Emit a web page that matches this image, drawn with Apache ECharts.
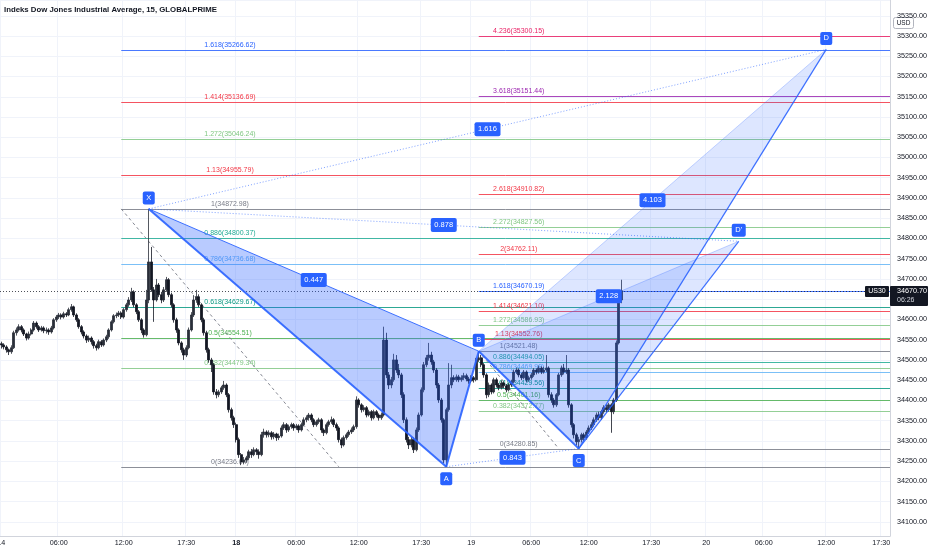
<!DOCTYPE html>
<html><head><meta charset="utf-8">
<script src="https://cdn.jsdelivr.net/npm/echarts@6/dist/echarts.min.js"></script>
<style>html,body{margin:0;padding:0;background:#fff}#c{width:932px;height:550px}</style>
</head><body><div id="c"></div>
<script>
// ---------------- data ----------------
const chartTitle = 'Indeks Dow Jones Industrial Average, 15, GLOBALPRIME';
const slotCount = 356;
const xTickIdx = [0, 23, 49, 74, 94, 118, 143, 168, 188, 212, 235, 260, 282, 305, 330, 352];
const xTickLabels = ['14', '06:00', '12:00', '17:30', '18', '06:00', '12:00', '17:30', '19', '06:00', '12:00', '17:30', '20', '06:00', '12:00', '17:30'];
const xBoldLabels = ['18'];
const yMin = 34065, yMax = 35389;

// [open, close, low, high]
const candles = [
[34540,34537,34528,34545],[34537,34532,34526,34541],[34532,34525,34518,34536],[34525,34520,34512,34528],[34520,34530,34515,34536],
[34530,34567,34527,34572],[34567,34574,34560,34580],[34574,34582,34570,34588],[34582,34574,34568,34586],[34574,34564,34559,34578],
[34564,34554,34548,34567],[34554,34564,34550,34570],[34564,34574,34560,34578],[34574,34591,34570,34596],[34591,34582,34577,34595],
[34582,34574,34569,34586],[34574,34579,34570,34584],[34579,34572,34566,34583],[34572,34574,34565,34580],[34574,34569,34562,34578],
[34569,34579,34565,34584],[34579,34599,34575,34603],[34599,34606,34594,34611],[34606,34611,34601,34616],[34611,34606,34600,34615],
[34606,34614,34602,34619],[34614,34611,34606,34618],[34611,34624,34608,34629],[34624,34631,34619,34638],[34631,34611,34606,34634],
[34611,34599,34594,34615],[34599,34582,34577,34603],[34582,34569,34563,34586],[34569,34559,34553,34573],[34559,34549,34542,34563],
[34549,34554,34544,34560],[34554,34545,34538,34558],[34545,34535,34528,34549],[34535,34530,34523,34540],[34530,34545,34526,34550],
[34545,34537,34532,34549],[34537,34549,34533,34553],[34549,34557,34544,34562],[34557,34574,34552,34578],[34574,34594,34570,34598],
[34594,34609,34590,34613],[34609,34611,34603,34617],[34611,34616,34606,34621],[34616,34606,34601,34620],[34606,34624,34602,34628],
[34624,34636,34619,34641],[34636,34648,34631,34655],[34648,34668,34643,34678],[34668,34636,34630,34672],[34636,34619,34613,34640],
[34619,34599,34594,34623],[34599,34574,34566,34603],[34574,34562,34555,34578],[34562,34648,34558,34673],[34648,34742,34640,34872.98],
[34742,34673,34668,34779],[34673,34648,34594,34680],[34648,34685,34644,34700],[34685,34661,34655,34690],[34661,34648,34640,34668],
[34648,34673,34643,34680],[34673,34698,34668,34705],[34698,34661,34655,34702],[34661,34636,34630,34666],[34636,34599,34592,34640],
[34599,34574,34567,34604],[34574,34542,34536,34578],[34542,34525,34518,34546],[34525,34512,34500,34530],[34512,34530,34507,34536],
[34530,34574,34526,34580],[34574,34611,34570,34618],[34611,34648,34606,34660],[34648,34656,34641,34673],[34656,34636,34630,34662],
[34636,34599,34593,34640],[34599,34567,34560,34604],[34567,34525,34518,34572],[34525,34500,34493,34530],[34500,34488,34470,34505],
[34488,34421,34414,34492],[34421,34414,34405,34428],[34414,34421,34408,34426],[34421,34431,34416,34436],[34431,34438,34426,34448],
[34438,34414,34408,34442],[34414,34377,34370,34418],[34377,34357,34350,34382],[34357,34340,34332,34362],[34340,34303,34296,34345],
[34303,34266,34258,34308],[34266,34248,34240,34270],[34248,34253,34242,34260],[34253,34258,34246,34263],[34258,34273,34252,34278],
[34273,34266,34258,34280],[34266,34278,34262,34284],[34278,34273,34265,34282],[34273,34266,34256,34279],[34266,34315,34262,34322],
[34315,34322,34308,34330],[34322,34315,34308,34326],[34315,34320,34309,34326],[34320,34310,34303,34324],[34310,34317,34304,34322],
[34317,34308,34300,34320],[34308,34312,34302,34318],[34312,34332,34308,34338],[34332,34340,34327,34346],[34340,34327,34320,34344],
[34327,34335,34322,34340],[34335,34340,34330,34345],[34340,34332,34325,34344],[34332,34337,34327,34342],[34337,34327,34320,34341],
[34327,34340,34323,34345],[34340,34352,34336,34358],[34352,34357,34346,34363],[34357,34364,34350,34369],[34364,34352,34346,34368],
[34352,34340,34334,34356],[34340,34347,34335,34352],[34347,34352,34342,34357],[34352,34327,34320,34356],[34327,34320,34312,34331],
[34320,34340,34316,34345],[34340,34347,34335,34352],[34347,34352,34342,34360],[34352,34340,34334,34356],[34340,34332,34325,34345],
[34332,34303,34296,34336],[34303,34290,34282,34308],[34290,34308,34286,34313],[34308,34315,34303,34320],[34315,34322,34310,34327],
[34322,34327,34317,34333],[34327,34335,34322,34340],[34335,34401,34330,34410],[34401,34389,34382,34405],[34389,34377,34370,34393],
[34377,34382,34372,34388],[34382,34364,34358,34386],[34364,34372,34360,34377],[34372,34357,34350,34376],[34357,34372,34353,34377],
[34372,34364,34358,34376],[34364,34357,34350,34368],[34357,34364,34352,34370],[34364,34549,34360,34582],[34549,34463,34455,34567],
[34463,34438,34428,34470],[34438,34451,34430,34458],[34451,34500,34446,34515],[34500,34475,34468,34512],[34475,34463,34455,34490],
[34463,34414,34406,34468],[34414,34352,34344,34420],[34352,34303,34296,34358],[34303,34290,34280,34310],[34290,34303,34284,34310],
[34303,34278,34270,34308],[34278,34327,34274,34333],[34327,34364,34322,34370],[34364,34426,34360,34432],[34426,34488,34420,34495],
[34488,34505,34482,34512],[34505,34512,34498,34542],[34512,34495,34488,34520],[34495,34475,34468,34500],[34475,34438,34430,34480],
[34438,34401,34394,34443],[34401,34352,34345,34406],[34352,34253,34245,34356],[34253,34377,34236.04,34382],[34377,34438,34372,34492],
[34438,34456,34430,34488],[34456,34451,34445,34462],[34451,34458,34446,34464],[34458,34451,34445,34463],[34451,34456,34446,34462],
[34456,34461,34450,34468],[34461,34453,34447,34466],[34453,34448,34441,34458],[34448,34456,34443,34462],[34456,34451,34444,34460],
[34451,34500,34447,34505],[34500,34505,34495,34521.48],[34505,34488,34482,34512],[34488,34463,34456,34492],[34463,34414,34405,34467],
[34414,34438,34408,34444],[34438,34421,34415,34442],[34421,34451,34417,34456],[34451,34438,34432,34456],[34438,34431,34425,34443],
[34431,34443,34427,34449],[34443,34436,34430,34447],[34436,34426,34420,34440],[34426,34438,34422,34443],[34438,34446,34433,34451],
[34446,34470,34442,34476],[34470,34475,34465,34481],[34475,34463,34457,34479],[34463,34456,34450,34468],[34456,34470,34452,34475],
[34470,34451,34445,34474],[34451,34456,34446,34461],[34456,34463,34451,34468],[34463,34475,34458,34480],[34475,34470,34464,34479],
[34470,34480,34466,34486],[34480,34470,34465,34484],[34470,34475,34466,34483],[34475,34480,34470,34512],[34480,34414,34407,34484],
[34414,34401,34394,34420],[34401,34389,34382,34406],[34389,34414,34384,34418],[34414,34463,34410,34468],[34463,34480,34458,34486],
[34480,34470,34464,34490],[34470,34475,34465,34512],[34475,34389,34382,34480],[34389,34340,34333,34393],[34340,34315,34306,34344],
[34315,34298,34289,34320],[34298,34303,34280.85,34310],[34303,34315,34296,34320],[34315,34308,34300,34320],[34308,34322,34303,34327],
[34322,34332,34317,34338],[34332,34340,34327,34346],[34340,34352,34335,34358],[34352,34364,34347,34370],[34364,34357,34351,34372],
[34357,34372,34352,34377],[34372,34382,34367,34388],[34382,34377,34370,34390],[34377,34389,34372,34394],[34389,34372,34320,34393],
[34372,34401,34366,34406],[34401,34542,34396,34548],[34542,34648,34538,34655],[34648,34670.70,34640,34698]
];

// harmonic pattern points (bar index, price)
const pointNames = ['X', 'A', 'B', 'C', 'D', "D'"];
const pointIdx = [59, 178, 191, 231, 330, 295];
const pointPrice = [34872.98, 34236.04, 34521.48, 34280.85, 35267.00, 34793.00];

// ratio labels on pattern segments
const ratioText = ['0.447', '0.843', '4.103', '1.616', '2.128', '0.878'];
const ratioFrom = ['X', 'A', 'B', 'X', 'B', 'X'];
const ratioTo = ['B', 'C', 'D', 'D', "D'", "D'"];

// Fibonacci tools
const fibLeftRatios = ['1.618', '1.414', '1.272', '1.13', '1', '0.886', '0.786', '0.618', '0.5', '0.382', '0'];
const fibLeftPrices = [35266.62, 35136.69, 35046.24, 34955.79, 34872.98, 34800.37, 34736.68, 34629.67, 34554.51, 34479.34, 34236.04];
const fibLeftAnchor = [48, 135];
const fibRightRatios = ['4.236', '3.618', '2.618', '2.272', '2', '1.618', '1.414', '1.272', '1.13', '1', '0.886', '0.786', '0.618', '0.5', '0.382', '0'];
const fibRightPrices = [35300.15, 35151.44, 34910.82, 34827.56, 34762.11, 34670.19, 34621.10, 34586.93, 34552.76, 34521.48, 34494.05, 34469.98, 34429.56, 34401.16, 34372.77, 34280.85];
const fibRightAnchor = [191, 223];

const symbolName = 'US30';
const lastPrice = 34670.70;
const lastCountdown = '06:26';
const currencyLabel = 'USD';

// ---------------- styles ----------------
const FONT = '"Liberation Sans", Arial, sans-serif';
const BLUE = '#2962FF';
const fibColor = {
  '0': '#787B86', '1': '#787B86', '0.382': '#81C784', '0.5': '#4CAF50', '0.618': '#089981',
  '0.786': '#64B5F6', '0.886': '#22AB94', '1.13': '#F23645', '1.272': '#81C784', '1.414': '#F23645',
  '1.618': '#2962FF', '2': '#F23645', '2.272': '#81C784', '2.618': '#F23645', '3.618': '#9C27B0', '4.236': '#E91E63'
};
const pointAbove = [true, false, true, false, true, true];
const fillTriangles = [['X', 'A', 'B'], ['B', 'C', 'D'], ['B', 'C', "D'"]];
const fillAlpha = [0.33, 0.16, 0.16];
const legSegments = [['X', 'A', 2], ['A', 'B', 2], ['B', 'C', 2], ['C', 'D', 1.2], ['C', "D'", 1.2], ['X', 'B', 1], ['B', 'D', 0.6], ['B', "D'", 0.6]];
const dottedSegments = [['X', 'D'], ['X', "D'"], ['A', 'C']];

// ---------------- build ----------------
const P = n => { const k = pointNames.indexOf(n); return [pointIdx[k], pointPrice[k]]; };
const categories = Array.from({ length: slotCount }, (_, i) => String(i));
const tickSet = new Set(xTickIdx);

const fibLevels = [];
fibLeftRatios.forEach((r, i) => fibLevels.push({ ratio: r, price: fibLeftPrices[i], start: fibLeftAnchor[0], end: fibLeftAnchor[1] }));
fibRightRatios.forEach((r, i) => fibLevels.push({ ratio: r, price: fibRightPrices[i], start: fibRightAnchor[0], end: fibRightAnchor[1] }));

const chart = echarts.init(document.getElementById('c'), null, { renderer: 'canvas' });

const option = {
  animation: false,
  backgroundColor: '#ffffff',
  title: { text: chartTitle, left: 4, top: 6, padding: 0, textStyle: { fontSize: 7.8, fontWeight: 'bold', color: '#131722', fontFamily: FONT } },
  grid: { left: 0, right: 42, top: 0, bottom: 14, containLabel: false, outerBoundsMode: 'none' },
  xAxis: {
    type: 'category', data: categories, boundaryGap: true,
    axisLine: { show: true, lineStyle: { color: '#d1d4dc' } },
    axisTick: { show: false },
    axisLabel: {
      interval: (i) => tickSet.has(i),
      formatter: (v, i) => { const k = xTickIdx.indexOf(i); if (k < 0) return ''; const t = xTickLabels[k]; return xBoldLabels.includes(t) ? '{b|' + t + '}' : t; },
      fontSize: 7.2, color: '#131722', margin: 4, fontFamily: FONT,
      rich: { b: { fontSize: 7.2, fontWeight: 'bold', color: '#131722', fontFamily: FONT } }
    },
    splitLine: { show: true, interval: (i) => tickSet.has(i), lineStyle: { color: '#f0f3fa', width: 1 } }
  },
  yAxis: {
    type: 'value', position: 'right', min: yMin, max: yMax, splitNumber: 26, scale: true,
    axisLine: { show: true, lineStyle: { color: '#d1d4dc' } },
    axisTick: { show: false },
    axisLabel: { fontSize: 7.2, color: '#131722', margin: 7, fontFamily: FONT,
      formatter: v => (Math.abs(v % 50) < 1e-6 ? v.toFixed(2) : '') },
    splitLine: { show: true, lineStyle: { color: '#f0f3fa', width: 1 } }
  },
  series: [
    {
      // Fibonacci levels
      type: 'custom', z: 2, clip: false,
      data: fibLevels.map(l => [l.start, l.price]),
      renderItem: (params, api) => {
        const lv = fibLevels[params.dataIndex];
        const cs = params.coordSys;
        const a = api.coord([lv.start, lv.price]);
        const b = api.coord([lv.end, lv.price]);
        const col = fibColor[lv.ratio];
        const y = Math.round(a[1]) + 0.5;
        return { type: 'group', children: [
          { type: 'line', shape: { x1: a[0], y1: y, x2: cs.x + cs.width, y2: y }, style: { stroke: col, lineWidth: 1, opacity: 0.85 } },
          { type: 'text', style: { x: (a[0] + b[0]) / 2, y: y - 1.5, text: lv.ratio + '(' + lv.price.toFixed(2) + ')', align: 'center', verticalAlign: 'bottom', fill: col, font: '7px ' + FONT } }
        ] };
      }
    },
    {
      // Fibonacci tool diagonals
      type: 'custom', z: 2, clip: false,
      data: [[fibLeftAnchor[0], fibLeftPrices[4]], [fibRightAnchor[0], fibRightPrices[9]]],
      renderItem: (params, api) => {
        const pr = params.dataIndex === 0
          ? [[fibLeftAnchor[0], fibLeftPrices[4]], [fibLeftAnchor[1], fibLeftPrices[10]]]
          : [[fibRightAnchor[0], fibRightPrices[9]], [fibRightAnchor[1], fibRightPrices[15]]];
        const a = api.coord(pr[0]), b = api.coord(pr[1]);
        return { type: 'line', shape: { x1: a[0], y1: a[1], x2: b[0], y2: b[1] }, style: { stroke: '#787B86', lineWidth: 1, lineDash: [3, 3], opacity: 0.9 } };
      }
    },
    {
      type: 'candlestick', z: 3, data: candles, barWidth: 2.2,
      itemStyle: { color: '#2a2e39', color0: '#131722', borderColor: '#2a2e39', borderColor0: '#131722', borderWidth: 0.8 }
    },
    {
      // current price line + axis labels
      type: 'custom', z: 4, clip: false,
      data: [[0, lastPrice]],
      renderItem: (params, api) => {
        const cs = params.coordSys;
        const y = Math.round(api.coord([0, lastPrice])[1]) + 0.5;
        const rx = cs.x + cs.width;
        return { type: 'group', children: [
          { type: 'line', shape: { x1: cs.x, y1: y, x2: rx, y2: y }, style: { stroke: '#131722', lineWidth: 1, lineDash: [1, 2], opacity: 0.75 } },
          { type: 'rect', shape: { x: rx - 25, y: y - 5.5, width: 24, height: 11, r: 1 }, style: { fill: '#131722' } },
          { type: 'text', style: { x: rx - 13, y: y, text: symbolName, align: 'center', verticalAlign: 'middle', fill: '#ffffff', font: '7px ' + FONT } },
          { type: 'rect', shape: { x: rx, y: y - 5.5, width: 38, height: 20, r: 1 }, style: { fill: '#131722' } },
          { type: 'text', style: { x: rx + 7, y: y, text: lastPrice.toFixed(2), align: 'left', verticalAlign: 'middle', fill: '#ffffff', font: '7.2px ' + FONT } },
          { type: 'text', style: { x: rx + 7, y: y + 9, text: lastCountdown, align: 'left', verticalAlign: 'middle', fill: '#d1d4dc', font: '7px ' + FONT } }
        ] };
      }
    },
    {
      // pattern fills
      type: 'custom', z: 5, clip: false,
      data: fillTriangles.map(t => P(t[0])),
      renderItem: (params, api) => {
        const tri = fillTriangles[params.dataIndex];
        return { type: 'polygon', shape: { points: tri.map(n => api.coord(P(n))) }, style: { fill: 'rgba(41,98,255,' + fillAlpha[params.dataIndex] + ')' } };
      }
    },
    {
      // pattern legs
      type: 'custom', z: 6, clip: false,
      data: legSegments.map(s => P(s[0])),
      renderItem: (params, api) => {
        const s = legSegments[params.dataIndex];
        const a = api.coord(P(s[0])), b = api.coord(P(s[1]));
        return { type: 'line', shape: { x1: a[0], y1: a[1], x2: b[0], y2: b[1] }, style: { stroke: BLUE, lineWidth: s[2], opacity: s[2] < 1 ? 0.45 : 0.9 } };
      }
    },
    {
      // dotted ratio lines
      type: 'custom', z: 6, clip: false,
      data: dottedSegments.map(s => P(s[0])),
      renderItem: (params, api) => {
        const s = dottedSegments[params.dataIndex];
        const a = api.coord(P(s[0])), b = api.coord(P(s[1]));
        return { type: 'line', shape: { x1: a[0], y1: a[1], x2: b[0], y2: b[1] }, style: { stroke: BLUE, lineWidth: 1, lineDash: [1, 2], opacity: 0.6 } };
      }
    },
    {
      // ratio boxes
      type: 'custom', z: 7, clip: false,
      data: ratioText.map((t, i) => P(ratioFrom[i])),
      renderItem: (params, api) => {
        const i = params.dataIndex;
        const a = api.coord(P(ratioFrom[i])), b = api.coord(P(ratioTo[i]));
        const cx = (a[0] + b[0]) / 2, cy = (a[1] + b[1]) / 2;
        const w = ratioText[i].length * 4 + 6;
        return { type: 'group', children: [
          { type: 'rect', shape: { x: cx - w / 2, y: cy - 7, width: w, height: 14, r: 2 }, style: { fill: BLUE } },
          { type: 'text', style: { x: cx, y: cy, text: ratioText[i], align: 'center', verticalAlign: 'middle', fill: '#ffffff', font: '7.5px ' + FONT } }
        ] };
      }
    },
    {
      // point labels
      type: 'custom', z: 8, clip: false,
      data: pointNames.map((n, i) => [pointIdx[i], pointPrice[i]]),
      renderItem: (params, api) => {
        const i = params.dataIndex;
        const c = api.coord([pointIdx[i], pointPrice[i]]);
        const cy = c[1] + (pointAbove[i] ? -11 : 12);
        const w = pointNames[i].length > 1 ? 14 : 12;
        return { type: 'group', children: [
          { type: 'rect', shape: { x: c[0] - w / 2, y: cy - 6.5, width: w, height: 13, r: 2 }, style: { fill: BLUE } },
          { type: 'text', style: { x: c[0], y: cy, text: pointNames[i], align: 'center', verticalAlign: 'middle', fill: '#ffffff', font: '7.5px ' + FONT } }
        ] };
      }
    }
  ],
  graphic: [
    { type: 'group', right: 18, top: 17, z: 100, children: [
      { type: 'rect', shape: { x: 0, y: 0, width: 20, height: 11, r: 2 }, style: { fill: '#ffffff', stroke: '#b2b5be', lineWidth: 1 } },
      { type: 'text', style: { x: 10, y: 5.5, text: currencyLabel, align: 'center', verticalAlign: 'middle', fill: '#131722', font: '6.5px ' + FONT } }
    ] }
  ]
};
chart.setOption(option);
</script>
</body></html>
